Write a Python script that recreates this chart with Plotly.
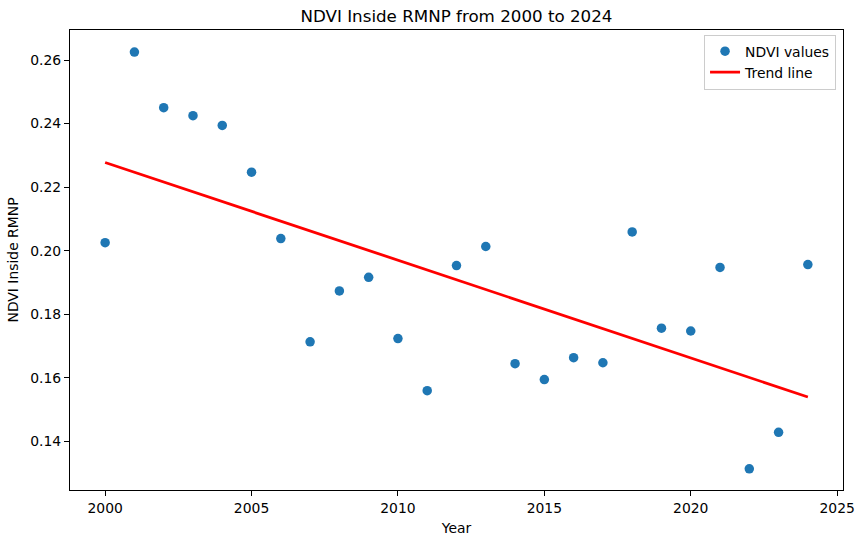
import numpy as np
import plotly.graph_objects as go

years = list(range(2000, 2025))
ndvi = [0.2025, 0.2625, 0.2450, 0.2425, 0.2394, 0.2247, 0.2038, 0.1713, 0.1873,
        0.1916, 0.1723, 0.1559, 0.1953, 0.2013, 0.1644, 0.1594, 0.1663, 0.1647,
        0.2059, 0.1756, 0.1747, 0.1947, 0.1313, 0.1428, 0.1956]
x_ticks = [2000, 2005, 2010, 2015, 2020, 2025]
y_ticks = [0.14, 0.16, 0.18, 0.20, 0.22, 0.24, 0.26]

slope, intercept = np.polyfit(years, ndvi, 1)
trend = [slope * y + intercept for y in years]

font = "DejaVu Sans"
fig = go.Figure()
fig.add_trace(go.Scatter(x=years, y=ndvi, mode="markers", name="NDVI values",
                         marker=dict(color="#1f77b4", size=9.5, line=dict(width=0))))
fig.add_trace(go.Scatter(x=years, y=trend, mode="lines", name="Trend line",
                         line=dict(color="red", width=2.8)))

axis_common = dict(showline=True, linecolor="black", linewidth=1, mirror=True,
                   ticks="outside", ticklen=5, tickwidth=1, tickcolor="black",
                   showgrid=False, zeroline=False,
                   tickfont=dict(family=font, size=13.9, color="black"))
fig.update_layout(
    width=867, height=545,
    margin=dict(l=70, r=22, t=30, b=53),
    paper_bgcolor="white", plot_bgcolor="white",
    font=dict(family=font, size=13.9, color="black"),
    title=dict(text="NDVI Inside RMNP from 2000 to 2024", x=0.5, xref="paper",
               y=1 - 16/545, yanchor="middle",
               font=dict(family=font, size=16.7, color="black")),
    xaxis=dict(range=[1998.8, 2025.2], tickvals=x_ticks,
               title=dict(text="Year", font=dict(family=font, size=13.9), standoff=8),
               **axis_common),
    yaxis=dict(range=[0.12464, 0.26946], tickvals=y_ticks, tickformat=".2f",
               title=dict(text="NDVI Inside RMNP", font=dict(family=font, size=13.9), standoff=8),
               **axis_common),
    legend=dict(x=0.991, y=0.99, xanchor="right", yanchor="top",
                bgcolor="rgba(255,255,255,0.8)", bordercolor="#cccccc", borderwidth=1,
                tracegroupgap=0,
                font=dict(family=font, size=13.9, color="black")),
    showlegend=True,
)
fig.write_html("out.html")
